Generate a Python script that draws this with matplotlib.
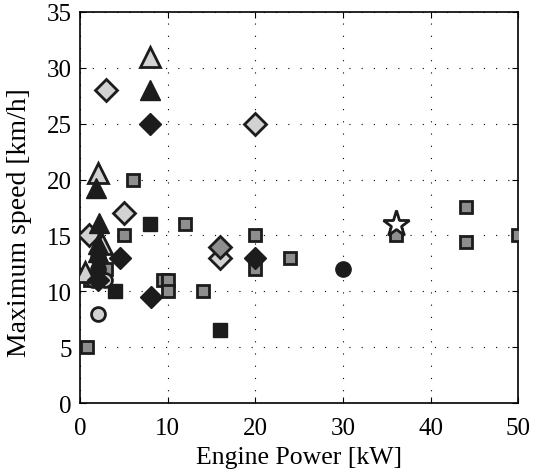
import matplotlib
matplotlib.use("Agg")
import matplotlib.pyplot as plt

plt.rcParams['font.family'] = ['Liberation Serif', 'DejaVu Serif']

# gray squares
sq_gray_x = [6, 12, 5, 20, 3, 1.1, 9.5, 10, 10, 14, 0.75, 20, 24, 36, 44, 44, 50]
sq_gray_y = [20, 16, 15, 15, 12, 11, 11, 11, 10, 10, 5, 12, 13, 15, 17.5, 14.4, 15]
# black squares
sq_black_x = [8, 4, 16]
sq_black_y = [16, 10, 6.5]
# light triangles
tri_light_x = [8, 2.1, 0.6, 2.5]
tri_light_y = [31, 20.6, 11.7, 14.2]
# black triangles
tri_black_x = [8, 1.8, 2.2, 2.1, 2.0]
tri_black_y = [28, 19.2, 16.1, 14.2, 13.5]
# light diamonds
dia_light_x = [3, 20, 5, 1, 16]
dia_light_y = [28, 25, 17, 15, 13]
# gray diamonds
dia_gray_x = [16]
dia_gray_y = [14]
# black diamonds
dia_black_x = [8, 4.6, 20, 8.1, 2]
dia_black_y = [25, 13, 13, 9.5, 11]
# circles
circ_light_x = [2.1, 1.5, 2.8]
circ_light_y = [8, 11, 11]
circ_black_x = [2, 2, 30]
circ_black_y = [13, 12, 12]
# star
star_x = [36]
star_y = [16]

light = '#d2d2d2'
gray = '#8e8e8e'
dark = '#1c1c1c'

fig = plt.figure(figsize=(5.34, 4.77), dpi=100)
ax = fig.add_axes([0.1498, 0.153, 0.821, 0.820])

ax.plot(sq_gray_x, sq_gray_y, 's', ms=8.5, mfc=gray, mec=dark, mew=2, ls='none', zorder=3)
ax.plot(sq_black_x, sq_black_y, 's', ms=9.5, mfc=dark, mec=dark, mew=1, ls='none', zorder=3)
ax.plot(circ_light_x, circ_light_y, 'o', ms=10, mfc=light, mec=dark, mew=2, ls='none', zorder=3)
ax.plot(tri_light_x, tri_light_y, '^', ms=14, mfc=light, mec=dark, mew=2, ls='none', zorder=3)
ax.plot(tri_black_x, tri_black_y, '^', ms=14, mfc=dark, mec=dark, mew=1, ls='none', zorder=4)
ax.plot(dia_light_x, dia_light_y, 'D', ms=11, mfc=light, mec=dark, mew=2, ls='none', zorder=3)
ax.plot(dia_gray_x, dia_gray_y, 'D', ms=11, mfc=gray, mec=dark, mew=2, ls='none', zorder=3)
ax.plot(dia_black_x, dia_black_y, 'D', ms=11, mfc=dark, mec=dark, mew=1, ls='none', zorder=4)
ax.plot(circ_black_x, circ_black_y, 'o', ms=11, mfc=dark, mec=dark, mew=1, ls='none', zorder=4)
ax.plot(star_x, star_y, '*', ms=20, mfc='white', mec=dark, mew=2, ls='none', zorder=4)

ax.set_xlim(0, 50)
ax.set_ylim(0, 35)
ax.set_xticks(range(0, 51, 10))
ax.set_yticks(range(0, 36, 5))
ax.grid(True, color='black', linestyle=(0, (1, 10)), linewidth=0.8)
ax.tick_params(direction='in', labelsize=18, length=4, top=True, right=True)
ax.tick_params(axis='x', pad=10)
ax.tick_params(axis='y', pad=6)
for s in ax.spines.values():
    s.set_linewidth(1.2)
ax.set_xlabel('Engine Power [kW]', fontsize=18.5, labelpad=5)
ax.set_ylabel('Maximum speed [km/h]', fontsize=20)
ax.yaxis.set_label_coords(-0.11, 0.465)

fig.savefig('out.png', dpi=100)
